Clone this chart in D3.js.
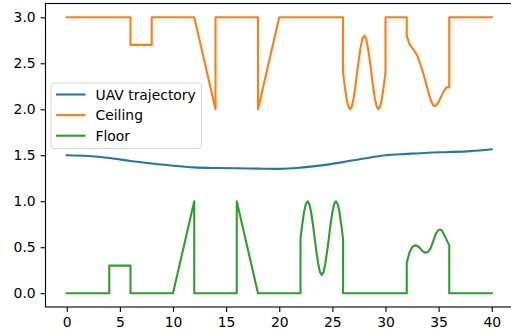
<!DOCTYPE html>
<html>
<head>
<meta charset="utf-8">
<script src="https://cdn.jsdelivr.net/npm/d3@7"></script>
<style>
  body { margin: 0; background: #fff; }
  text { font-family: "DejaVu Sans", sans-serif; }
</style>
</head>
<body>
<div id="chart"></div>
<script>
// data
const xTicks = [0, 5, 10, 15, 20, 25, 30, 35, 40];
const yTicks = [0.0, 0.5, 1.0, 1.5, 2.0, 2.5, 3.0];
const seriesNames = ["UAV trajectory", "Ceiling", "Floor"];
const seriesColors = ["#1f77b4", "#ff7f0e", "#2ca02c"];

const uavPoints = [
    [0, 1.50], [2, 1.492], [4, 1.47], [6, 1.437], [8, 1.41], [10, 1.386],
    [12, 1.368], [14, 1.361], [16, 1.358], [18, 1.355], [20, 1.352],
    [22, 1.365], [24, 1.39], [26, 1.425], [28, 1.465], [30, 1.50],
    [32, 1.515], [34, 1.528], [36, 1.535], [38, 1.545], [40, 1.565]
];

const ceilingPoints = [
    [0, 3], [6, 3], [6, 2.7], [8, 2.7], [8, 3], [12, 3], [14, 2], [14, 3],
    [18, 3], [18, 2], [20, 3], [26, 3],
    [26, 2.4], [26.17, 2.25], [26.33, 2.12], [26.5, 2.03], [26.67, 2.0], [26.83, 2.03],
    [27, 2.12], [27.17, 2.25], [27.33, 2.4], [27.5, 2.55], [27.67, 2.68], [27.83, 2.77],
    [28, 2.8], [28.17, 2.77], [28.33, 2.68], [28.5, 2.55], [28.67, 2.4], [28.83, 2.25],
    [29, 2.12], [29.17, 2.03], [29.33, 2.0], [29.5, 2.03], [29.67, 2.12], [29.83, 2.25],
    [30, 2.4], [30, 3], [32, 3],
    [32, 2.8], [32.25, 2.71], [32.5, 2.67], [32.75, 2.63], [33, 2.58], [33.25, 2.5],
    [33.5, 2.41], [33.75, 2.31], [34, 2.2], [34.25, 2.1], [34.5, 2.04], [34.75, 2.04],
    [35, 2.08], [35.25, 2.14], [35.5, 2.2], [35.75, 2.24], [36, 2.24],
    [36, 3], [40, 3]
];

const floorPoints = [
    [0, 0], [4, 0], [4, 0.3], [6, 0.3], [6, 0], [10, 0], [12, 1], [12, 0],
    [16, 0], [16, 1], [18, 0], [22, 0],
    [22, 0.6], [22.17, 0.75], [22.33, 0.88], [22.5, 0.97], [22.67, 1.0], [22.83, 0.97],
    [23, 0.88], [23.17, 0.75], [23.33, 0.6], [23.5, 0.45], [23.67, 0.32], [23.83, 0.23],
    [24, 0.2], [24.17, 0.23], [24.33, 0.32], [24.5, 0.45], [24.67, 0.6], [24.83, 0.75],
    [25, 0.88], [25.17, 0.97], [25.33, 1.0], [25.5, 0.97], [25.67, 0.88], [25.83, 0.75],
    [26, 0.6], [26, 0], [32, 0],
    [32, 0.33], [32.25, 0.44], [32.5, 0.5], [32.75, 0.52], [33, 0.515], [33.25, 0.49],
    [33.5, 0.455], [33.75, 0.44], [34, 0.45], [34.25, 0.49], [34.5, 0.57], [34.75, 0.65],
    [35, 0.69], [35.25, 0.69], [35.5, 0.64], [35.75, 0.58], [36, 0.52],
    [36, 0], [40, 0]
];

const width = 511;
const height = 334;
const plot = { left: 45.5, right: 513, top: 3.5, bottom: 307 };

const svg = d3.select("#chart")
    .append("svg")
    .attr("width", width)
    .attr("height", height)
    .style("background-color", "#fff");

const x = d3.scaleLinear().domain([-2, 42]).range([plot.left, plot.right]);
const y = d3.scaleLinear().domain([-0.15, 3.15]).range([plot.bottom, plot.top]);

// Lines
const line = d3.line().x((d) => x(d[0])).y((d) => y(d[1]));
const uavLine = d3.line().x((d) => x(d[0])).y((d) => y(d[1])).curve(d3.curveMonotoneX);

const lines = [
    { pts: uavPoints, gen: uavLine },
    { pts: ceilingPoints, gen: line },
    { pts: floorPoints, gen: line }
];

lines.forEach((s, i) => {
    svg.append("path")
        .attr("d", s.gen(s.pts))
        .attr("fill", "none")
        .attr("stroke", seriesColors[i])
        .attr("stroke-width", 2.1)
        .attr("stroke-linejoin", "round")
        .attr("stroke-linecap", "square");
});

// Axes
const xAxis = svg.append("g")
    .attr("transform", `translate(0,${plot.bottom})`)
    .call(d3.axisBottom(x).tickValues(xTicks).tickSize(4.9).tickPadding(4.9).tickFormat(d3.format("d")));

const yAxis = svg.append("g")
    .attr("transform", `translate(${plot.left},0)`)
    .call(d3.axisLeft(y).tickValues(yTicks).tickSize(4.9).tickPadding(4.9).tickFormat(d3.format(".1f")));

[xAxis, yAxis].forEach((a) => {
    a.select(".domain").remove();
    a.selectAll(".tick line").attr("stroke", "#000").attr("stroke-width", 1.1);
    a.selectAll(".tick text")
        .attr("fill", "#000")
        .style("font-family", "'DejaVu Sans', sans-serif")
        .style("font-size", "13.9px");
});

// Frame
svg.append("rect")
    .attr("x", plot.left)
    .attr("y", plot.top)
    .attr("width", plot.right - plot.left)
    .attr("height", plot.bottom - plot.top)
    .attr("fill", "none")
    .attr("stroke", "#000")
    .attr("stroke-width", 1.1);

// Legend
const legend = svg.append("g");
legend.append("rect")
    .attr("x", 51)
    .attr("y", 83)
    .attr("width", 150.5)
    .attr("height", 65.5)
    .attr("rx", 3)
    .attr("fill", "#fff")
    .attr("fill-opacity", 0.8)
    .attr("stroke", "#d6d6d6")
    .attr("stroke-width", 1);

seriesNames.forEach((name, i) => {
    const ly = 94.5 + i * 20.6;
    legend.append("line")
        .attr("x1", 56).attr("x2", 85.5)
        .attr("y1", ly).attr("y2", ly)
        .attr("stroke", seriesColors[i])
        .attr("stroke-width", 2.1);
    legend.append("text")
        .attr("x", 95.5)
        .attr("y", ly)
        .attr("dominant-baseline", "central")
        .style("font-size", "13.9px")
        .attr("fill", "#000")
        .text(name);
});
</script>
</body>
</html>
